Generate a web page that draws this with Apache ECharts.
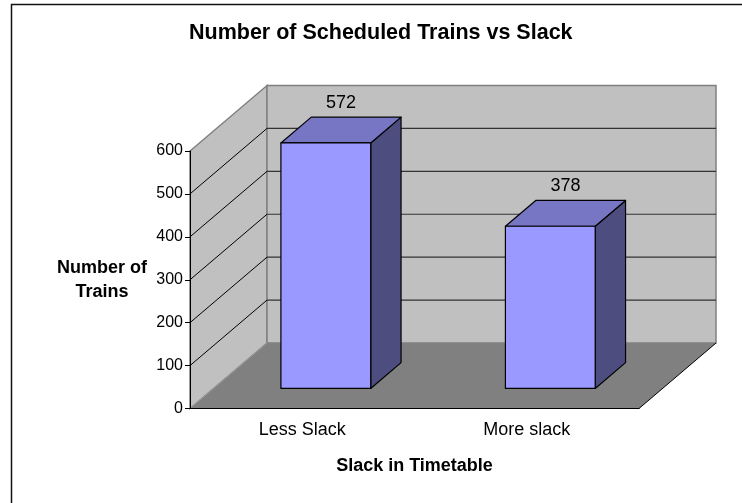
<!DOCTYPE html>
<html><head><meta charset="utf-8">
<script src="https://cdn.jsdelivr.net/npm/echarts@6/dist/echarts.min.js"></script>
<style>html,body{margin:0;padding:0;background:#fff}#c{width:742px;height:503px}</style>
</head><body><div id="c"></div>
<script>
const categories = ['Less Slack', 'More slack'];
const trainCounts = [572, 378];
const yTicks = [0, 100, 200, 300, 400, 500, 600];
const titleText = 'Number of Scheduled Trains vs Slack';
const xAxisTitle = 'Slack in Timetable';
const yAxisTitle = 'Number of\nTrains';

// projection / style constants
const DX = 77, DY = -65.5;
const F0 = 0.306, F1 = 0.70;
const BAR = 0.4;
const FONT = '"Liberation Sans", Arial, sans-serif';

function renderWalls(params, api) {
  const cs = params.coordSys;
  const x0 = cs.x, x1 = cs.x + cs.width;
  const yb = api.coord([0, yTicks[0]])[1];
  const yt = api.coord([0, yTicks[yTicks.length - 1]])[1];
  const ch = [];
  ch.push({type: 'polygon', shape: {points: [[x0, yb], [x0, yt], [x0 + DX, yt + DY], [x0 + DX, yb + DY]]},
    style: {fill: '#c0c0c0', stroke: '#808080', lineWidth: 1.5}});
  ch.push({type: 'polygon', shape: {points: [[x0 + DX, yt + DY], [x1 + DX, yt + DY], [x1 + DX, yb + DY], [x0 + DX, yb + DY]]},
    style: {fill: '#c0c0c0', stroke: '#808080', lineWidth: 1.5}});
  yTicks.slice(1, -1).forEach(function (v) {
    const y = api.coord([0, v])[1];
    ch.push({type: 'line', shape: {x1: x0, y1: y, x2: x0 + DX, y2: y + DY}, style: {stroke: '#000', lineWidth: 1}});
    ch.push({type: 'line', shape: {x1: x0 + DX, y1: y + DY, x2: x1 + DX, y2: y + DY}, style: {stroke: '#333', lineWidth: 1.2}});
  });
  ch.push({type: 'polygon', shape: {points: [[x0, yb], [x1, yb], [x1 + DX, yb + DY], [x0 + DX, yb + DY]]},
    style: {fill: '#808080'}});
  ch.push({type: 'line', shape: {x1: x0, y1: yb, x2: x0 + DX, y2: yb + DY}, style: {stroke: '#9a9a9a', lineWidth: 1}});
  ch.push({type: 'line', shape: {x1: x1, y1: yb, x2: x1 + DX, y2: yb + DY}, style: {stroke: '#000', lineWidth: 1}});
  return {type: 'group', children: ch};
}

function renderBars(params, api) {
  const idx = api.value(0), val = api.value(1);
  const base = api.coord([idx, 0]);
  const top = api.coord([idx, val]);
  const bw = api.size([1, 0])[0] * BAR;
  const fx = base[0] - bw / 2 + DX * F0, fy0 = base[1] + DY * F0, fy1 = top[1] + DY * F0;
  const dx = DX * (F1 - F0), dy = DY * (F1 - F0);
  const st = {stroke: '#000', lineWidth: 1.2, lineJoin: 'round'};
  return {type: 'group', children: [
    {type: 'polygon', shape: {points: [[fx + bw, fy0], [fx + bw, fy1], [fx + bw + dx, fy1 + dy], [fx + bw + dx, fy0 + dy]]},
      style: Object.assign({fill: '#4d4d80'}, st)},
    {type: 'polygon', shape: {points: [[fx, fy1], [fx + bw, fy1], [fx + bw + dx, fy1 + dy], [fx + dx, fy1 + dy]]},
      style: Object.assign({fill: '#7676c4'}, st)},
    {type: 'rect', shape: {x: fx, y: fy1, width: bw, height: fy0 - fy1},
      style: Object.assign({fill: '#9999ff'}, st)},
    {type: 'text', x: fx + bw / 2 + dx / 2, y: fy1 + dy - 5,
      style: {text: String(val), fill: '#000', font: '18px ' + FONT, align: 'center', verticalAlign: 'bottom'}}
  ]};
}

const chart = echarts.init(document.getElementById('c'), null, {renderer: 'canvas'});
chart.setOption({
  animation: false,
  backgroundColor: '#fff',
  title: {text: titleText, left: 189, top: 22, padding: 0,
    textStyle: {fontSize: 21.5, fontWeight: 'bold', color: '#000', fontFamily: FONT}},
  graphic: [{type: 'polyline', shape: {points: [[11.5, 503], [11.5, 4.5], [742, 4.5]]},
    style: {stroke: '#111', lineWidth: 1.5, fill: null}, silent: true}],
  grid: {left: 190, right: 103, top: 151, bottom: 94.5, outerBoundsMode: 'none'},
  xAxis: {type: 'category', data: categories, boundaryGap: true, z: 5,
    axisLine: {lineStyle: {color: '#000', width: 1}},
    axisTick: {length: 5, lineStyle: {color: '#000'}},
    axisLabel: {color: '#000', fontSize: 18, fontFamily: FONT, margin: 13},
    name: xAxisTitle, nameLocation: 'middle', nameGap: 57.5,
    nameTextStyle: {color: '#000', fontSize: 18, fontWeight: 'bold', fontFamily: FONT, verticalAlign: 'middle'}},
  yAxis: {type: 'value', min: yTicks[0], max: yTicks[yTicks.length - 1], interval: 100, z: 5,
    axisLine: {show: true, lineStyle: {color: '#000', width: 1}},
    axisTick: {show: true, length: 5, lineStyle: {color: '#000'}},
    axisLabel: {color: '#000', fontSize: 16, fontFamily: FONT, margin: 7},
    splitLine: {show: false},
    name: yAxisTitle, nameLocation: 'middle', nameGap: 88, nameRotate: 0,
    nameTextStyle: {color: '#000', fontSize: 18, fontWeight: 'bold', fontFamily: FONT, align: 'center',
      verticalAlign: 'middle', lineHeight: 24, padding: [0, 0, 4, 0]}},
  series: [
    {type: 'custom', renderItem: renderWalls, data: [[0, 0]], z: 1, silent: true, clip: false},
    {type: 'custom', renderItem: renderBars, data: trainCounts.map(function (v, i) { return [i, v]; }), z: 2, silent: true, clip: false}
  ]
});
</script></body></html>
